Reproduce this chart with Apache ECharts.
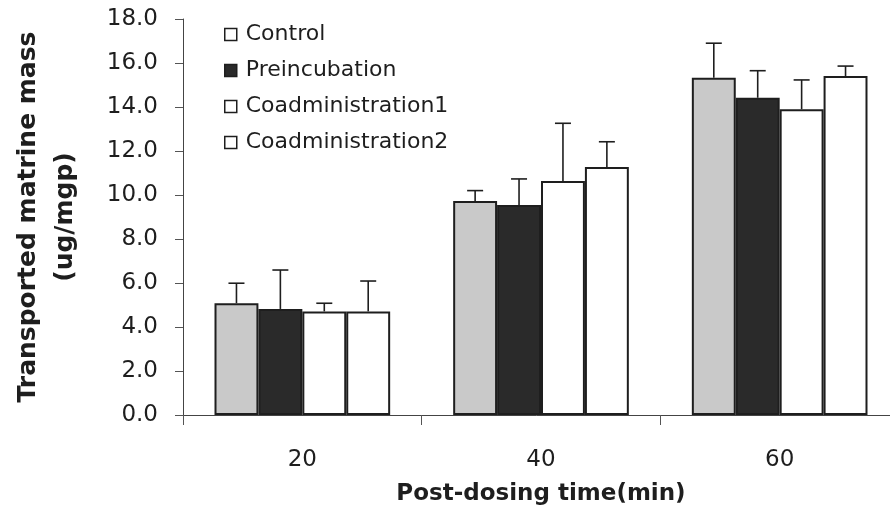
<!DOCTYPE html>
<html>
<head>
<meta charset="utf-8">
<script src="https://cdn.jsdelivr.net/npm/echarts@6/dist/echarts.min.js"></script>
<style>
  html, body { margin: 0; padding: 0; background: #fff; }
  #chart { width: 890px; height: 512px; }
</style>
</head>
<body>
<div id="chart"></div>
<script>
// Post-dosing time points (min)
const categories = ['20', '40', '60'];

// Mean transported matrine mass (ug/mgp)
const control        = [5.08, 9.73, 15.33];
const preincubation  = [4.82, 9.55, 14.42];
const coadmin1       = [4.71, 10.64, 13.90];
const coadmin2       = [4.71, 11.27, 15.41];

// Standard deviations (upper error bars)
const controlSD       = [0.91, 0.47, 1.57];
const preincubationSD = [1.77, 1.18, 1.23];
const coadmin1SD      = [0.37, 2.62, 1.33];
const coadmin2SD      = [1.38, 1.15, 0.45];

const yTicks = { min: 0, max: 18, interval: 2 };

const seriesDefs = [
  { name: 'Control',           values: control,       sd: controlSD,       fill: '#c9c9c9', legendFill: '#ffffff' },
  { name: 'Preincubation',     values: preincubation, sd: preincubationSD, fill: '#2a2a2a', legendFill: '#2a2a2a' },
  { name: 'Coadministration1', values: coadmin1,      sd: coadmin1SD,      fill: '#ffffff', legendFill: '#ffffff' },
  { name: 'Coadministration2', values: coadmin2,      sd: coadmin2SD,      fill: '#ffffff', legendFill: '#ffffff' }
];

const BAR_FRACTION = 0.184;   // bar width as a share of one category band
const FONT = '"DejaVu Sans", sans-serif';
const INK = '#1e1e1e';

const chart = echarts.init(document.getElementById('chart'), null, { renderer: 'canvas' });

const series = [];
seriesDefs.forEach((s, si) => {
  series.push({
    name: s.name,
    type: 'bar',
    data: s.values,
    barWidth: (BAR_FRACTION * 100) + '%',
    barGap: '0%',
    itemStyle: { color: s.fill, borderColor: INK, borderWidth: 2 },
    z: 2
  });
  // upper error bar drawn at the matching bar's centre
  series.push({
    type: 'custom',
    name: s.name + ' SD',
    data: s.values.map((v, i) => [i, v, v + s.sd[i]]),
    encode: { x: 0, y: [1, 2] },
    renderItem: function (params, api) {
      const cat = api.value(0);
      const base = api.coord([cat, api.value(1)]);
      const top = api.coord([cat, api.value(2)]);
      const band = api.size([1, 0])[0];
      const bw = band * BAR_FRACTION;
      const x = base[0] + (si - 1.5) * bw;
      const cap = 8;
      const style = { stroke: INK, lineWidth: 1.6, fill: null };
      return {
        type: 'group',
        children: [
          { type: 'line', shape: { x1: x, y1: base[1], x2: x, y2: top[1] }, style: style },
          { type: 'line', shape: { x1: x - cap, y1: top[1], x2: x + cap, y2: top[1] }, style: style }
        ]
      };
    },
    silent: true,
    z: 3
  });
});

chart.setOption({
  backgroundColor: '#ffffff',
  animation: false,
  textStyle: { fontFamily: FONT, color: INK },
  grid: { left: 183, right: -9, top: 19, bottom: 97, containLabel: false, outerBoundsMode: 'none' },
  legend: {
    orient: 'vertical',
    left: 219,
    top: 17,
    itemWidth: 12,
    itemHeight: 12,
    itemGap: 11,
    icon: 'rect',
    selectedMode: false,
    textStyle: { fontFamily: FONT, fontSize: 22, color: INK, lineHeight: 25, padding: [0, 0, 0, 4] },
    data: seriesDefs.map(s => ({
      name: s.name,
      itemStyle: { color: s.legendFill, borderColor: INK, borderWidth: 1.5 }
    }))
  },
  xAxis: {
    type: 'category',
    data: categories,
    name: 'Post-dosing time(min)',
    nameLocation: 'middle',
    nameGap: 68,
    nameTextStyle: { fontFamily: FONT, fontSize: 23, fontWeight: 'bold', color: INK },
    axisLine: { lineStyle: { color: '#444', width: 1 } },
    axisTick: { show: true, length: 10, lineStyle: { color: '#555' } },
    axisLabel: { fontFamily: FONT, fontSize: 23, color: INK, margin: 34 },
    splitLine: { show: false }
  },
  yAxis: {
    type: 'value',
    min: yTicks.min,
    max: yTicks.max,
    interval: yTicks.interval,
    name: 'Transported matrine mass\n(ug/mgp)',
    nameLocation: 'middle',
    nameGap: 99,
    nameTextStyle: { fontFamily: FONT, fontSize: 25, fontWeight: 'bold', color: INK, lineHeight: 37 },
    axisLine: { show: true, lineStyle: { color: '#444', width: 1 } },
    axisTick: { show: true, length: 8, lineStyle: { color: '#555' } },
    axisLabel: { fontFamily: FONT, fontSize: 23, color: INK, margin: 25, formatter: v => v.toFixed(1) },
    splitLine: { show: false }
  },
  series: series
});
</script>
</body>
</html>
